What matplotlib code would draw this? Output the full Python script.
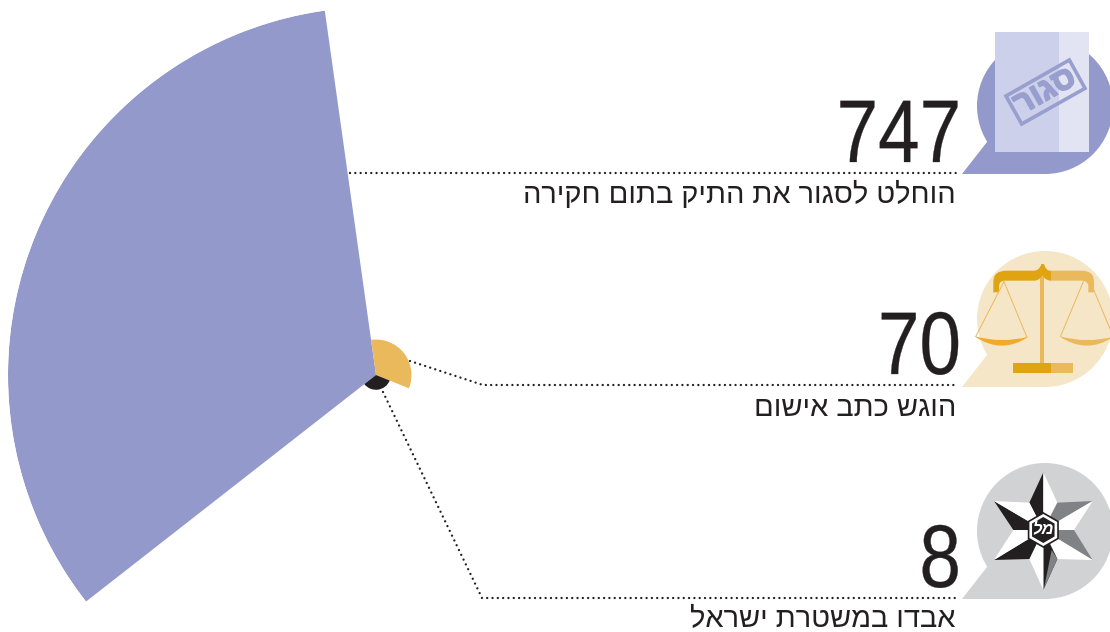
import numpy as np
import matplotlib
matplotlib.use("Agg")
import matplotlib.pyplot as plt
from matplotlib.patches import Circle, Polygon, PathPatch, Rectangle
from matplotlib.path import Path
from matplotlib.patheffects import AbstractPathEffect
from matplotlib.transforms import Affine2D

W, H = 1110, 632

# values shown next to the wedges
counts = ["747", "70", "8"]
captions = ["הוחלט לסגור את התיק בתום חקירה", "הוגש כתב אישום", "אבדו במשטרת ישראל"]
# wedge lengths (same unit as the largest count)
wedge_len = [747, 72, 30]

BLUE = "#9399ca"
GOLD = "#e9b95c"
INK = "#231f20"
HEB_FONT = ["Liberation Sans", "DejaVu Sans"]


class Squeeze(AbstractPathEffect):
    # no condensed font here: narrow the glyphs around x_px and fatten them a bit
    def __init__(self, x_px, sx=1.0, lw=0.0):
        super().__init__()
        self.x_px, self.sx, self.lw = x_px, sx, lw

    def draw_path(self, renderer, gc, tpath, affine, rgbFace):
        gc0 = renderer.new_gc()
        gc0.copy_properties(gc)
        gc0.set_linewidth(self.lw)
        gc0.set_foreground(rgbFace)
        gc0.set_joinstyle("round")
        squeeze = Affine2D().translate(-self.x_px, 0).scale(self.sx, 1).translate(self.x_px, 0)
        renderer.draw_path(gc0, tpath, affine + squeeze, rgbFace)
        gc0.restore()


def heb(s):
    # matplotlib has no bidi, so hebrew goes in visual order
    return s[::-1]


def zoomed(x0, y0, pts):
    return [(x0 + x / 3, y0 + y / 3) for x, y in pts]


fig = plt.figure(figsize=(W / 100, H / 100), dpi=100)

# rose
cx, cy, rad = 376, 375, 368
pol = fig.add_axes([(cx - rad) / W, (H - cy - rad) / H, 2 * rad / W, 2 * rad / H], projection="polar")
pol.set_theta_direction(-1)
pol.set_theta_offset(np.radians(218.0))
step = 2 * np.pi / len(wedge_len)
pol.bar([step * (i + 0.5) for i in range(3)], wedge_len, width=step, bottom=0, color=[BLUE, GOLD, INK], linewidth=0)
pol.set_rlim(0, 747)
pol.axis("off")

# everything else in pixels
ax = fig.add_axes([0, 0, 1, 1], zorder=5)
ax.set_xlim(0, W)
ax.set_ylim(H, 0)
ax.axis("off")

leaders = [
    [(350, 173), (958, 173)],
    [(410, 361), (483, 385), (958, 385)],
    [(383, 392), (482, 598), (958, 598)],
]
for pts in leaders:
    xs, ys = zip(*pts)
    ax.plot(xs, ys, color=INK, lw=1.7, linestyle=(0, (0.01, 2.24)), dash_capstyle="round")

bubbles = [(106, BLUE), (319, "#f6e6c8"), (531, "#d1d2d4")]
for yc, col in bubbles:
    ax.add_patch(Circle((1045, yc), 68, fc=col, ec="none"))
    ax.add_patch(Polygon([(962, yc + 68), (987, yc + 36), (1045, yc), (1045, yc + 68)], fc=col, ec="none"))

# closed file icon
ax.add_patch(Rectangle((995, 32), 64, 120, fc="#cdd0ea", ec="none"))
ax.add_patch(Rectangle((1059, 32), 30, 120, fc="#e2e4f3", ec="none"))
stamp = zoomed(900, 20, [(318, 228), (508, 120), (555, 205), (365, 312)])
ax.add_patch(Polygon(stamp, fc="none", ec="#989ecd", lw=2.6, joinstyle="miter"))
ax.text(1045.5, 92, heb("סגור"), family=HEB_FONT, weight="bold", fontsize=23, color="#989ecd",
        rotation=29.5, rotation_mode="anchor", ha="center", va="center",
        path_effects=[Squeeze(1045.5, 1.0, 1.2)])

# scales icon
x0, y0 = 900, 240
DARK = "#e0a412"
ax.add_patch(Rectangle((900 + 420 / 3, 240 + 100 / 3), 12 / 3, 270 / 3, fc=GOLD, ec="none"))
beam = [
    (280, 157), (280, 125), (280, 92), (320, 92), (395, 92), (418, 95), (424, 72), (432, 72), (438, 95),
    (455, 92), (545, 92), (582, 92), (582, 125), (582, 157), (565, 157), (565, 135), (560, 122), (545, 122),
    (450, 122), (435, 120), (427, 105), (420, 120), (405, 122), (315, 122), (297, 122), (297, 140),
    (297, 157), (280, 157),
]
codes = [Path.MOVETO, Path.LINETO, Path.CURVE3, Path.CURVE3, Path.LINETO, Path.CURVE3, Path.CURVE3, Path.LINETO, Path.CURVE3,
         Path.CURVE3, Path.LINETO, Path.CURVE3, Path.CURVE3, Path.LINETO, Path.LINETO, Path.LINETO, Path.CURVE3, Path.CURVE3,
         Path.LINETO, Path.CURVE3, Path.CURVE3, Path.CURVE3, Path.CURVE3, Path.LINETO, Path.CURVE3, Path.CURVE3,
         Path.LINETO, Path.CLOSEPOLY]
beam_path = Path(zoomed(x0, y0, beam), codes)
split = 900 + 453 / 3
for col, clip in [(DARK, (900, 240, split - 900, 60)), (GOLD, (split, 240, 80, 60))]:
    p = PathPatch(beam_path, fc=col, ec="none")
    ax.add_patch(p)
    p.set_clip_path(Rectangle(clip[:2], clip[2], clip[3], transform=ax.transData))
ax.add_patch(Rectangle((900 + 339 / 3, 240 + 369 / 3), 114 / 3, 10, fc=DARK, ec="none"))
ax.add_patch(Rectangle((split, 240 + 369 / 3), 66 / 3, 10, fc=GOLD, ec="none"))
strings = [[(312, 125), (228, 288)], [(312, 125), (380, 290)], [(550, 125), (482, 288)], [(577, 140), (640, 290)]]
for s in strings:
    xs, ys = zip(*zoomed(x0, y0, s))
    ax.plot(xs, ys, color=GOLD, lw=0.7)
for left, col in [(222, "#f0aa2c"), (477, GOLD)]:
    pan = [(left, 288), (left + 82, 312), (left + 164, 290), (left + 82, 345), (left, 288)]
    ax.add_patch(PathPatch(Path(zoomed(x0, y0, pan), [Path.MOVETO, Path.CURVE3, Path.CURVE3, Path.CURVE3, Path.CURVE3]),
                           fc=col, ec="none"))

# police star
x0, y0 = 900, 455
mid = (430, 225)
tips = [(430, 52), (578, 138), (578, 315), (430, 405), (282, 315), (282, 138)]
inner = [(388, 143), (472, 143), (522, 225), (472, 312), (388, 312), (340, 225)]
shades = [INK, "#808285", "#808285", INK, INK, INK]
for i in range(6):
    # each spike has one facet either side of the tip
    ax.add_patch(Polygon(zoomed(x0, y0, [mid, inner[i], tips[i]]), fc=shades[i], ec="none"))
    ax.add_patch(Polygon(zoomed(x0, y0, [mid, tips[i], inner[(i + 1) % 6]]), fc="white", ec="none"))
ax.add_patch(Polygon(zoomed(x0, y0, [(455, 285), (472, 312), (432, 400)]), fc="#808285", ec="none"))
hexa = [(1043.3 + r * np.sin(t), 530 + r * np.cos(t)) for r in [17] for t in np.arange(6) * np.pi / 3]
ax.add_patch(Polygon(hexa, fc="white", ec=INK, lw=1.2))
hexb = [(1043.3 + r * np.sin(t), 530 + r * np.cos(t)) for r in [13] for t in np.arange(6) * np.pi / 3]
ax.add_patch(Polygon(hexb, fc=INK, ec="none"))
ax.text(1043.3, 530, heb("מל"), family=HEB_FONT, weight="bold", style="italic", fontsize=12, color="white", ha="center", va="center")

# labels
num_base = [162, 374, 587]
cap_y = [195, 408, 619]
for n, cap, by, ty in zip(counts, captions, num_base, cap_y):
    ax.text(961, by, n, family="Liberation Sans", fontsize=64, color=INK, ha="right", va="baseline",
            path_effects=[Squeeze(961, 0.84, 0.2)])
    ax.text(956, ty, heb(cap), family=HEB_FONT, fontsize=20.9, color=INK, ha="right", va="center")

fig.savefig("out.png", dpi=100)
